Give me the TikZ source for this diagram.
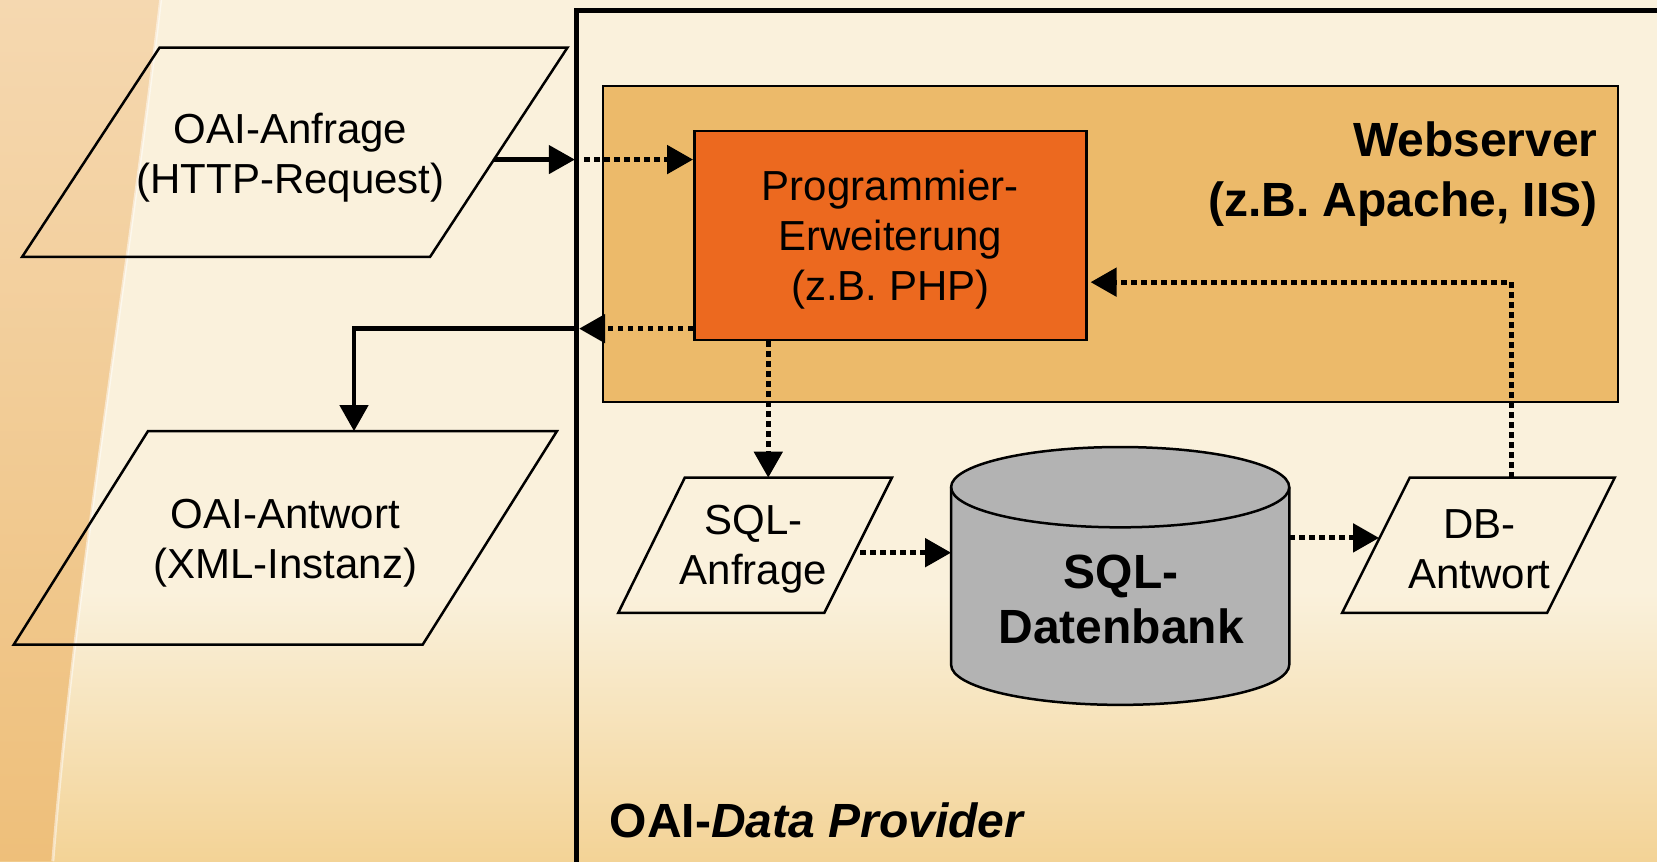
\documentclass[tikz,border=0pt]{standalone}
\usepackage{fontspec}
\setmainfont{Liberation Sans}
\usetikzlibrary{arrows.meta,calc}
\definecolor{bgcream}{HTML}{FAF1DC}
\definecolor{bgwarm}{HTML}{F3D396}
\definecolor{bandtop}{HTML}{F5D8B0}
\definecolor{bandbot}{HTML}{EEBF7A}
\definecolor{webfill}{HTML}{ECBA6A}
\definecolor{phpfill}{HTML}{EC691F}
\definecolor{dbfill}{HTML}{B3B3B3}
\tikzset{
  lbl/.style={font=\fontsize{42}{50}\selectfont, align=center, inner sep=0pt},
  blbl/.style={font=\fontsize{48}{60}\selectfont\bfseries, align=center, inner sep=0pt},
  paral/.style={draw=black, line width=2.5pt, line join=miter},
  solidarr/.style={line width=4.5pt, -{Triangle[length=26pt,width=28pt]}},
  dotarr/.style={line width=5pt, dash pattern=on 5.5pt off 4.5pt, -{Triangle[length=26pt,width=28pt]}},
  boxthin/.style={draw=black, line width=2pt},
}
\begin{document}
\begin{tikzpicture}[x=1.0568pt,y=-1.0568pt]
\useasboundingbox (0,0) rectangle (1568,815);
\clip (0,0) rectangle (1568,815);
% background
\fill[bgcream] (0,0) rectangle (1568,815);
\shade[top color=bgcream, bottom color=bgwarm] (0,560) rectangle (1568,815);
\shade[top color=bandtop, bottom color=bandbot] (0,0) -- (152,0) .. controls (120,270) and (70,560) .. (50,815) -- (0,815) -- cycle;
\draw[white, line width=3pt, opacity=0.5] (152,0) .. controls (120,270) and (70,560) .. (50,815);
% provider frame
\draw[line width=5pt] (546,830) -- (546,9.5) -- (1600,9.5);
% webserver box
\node[boxthin, fill=webfill, minimum width=1014.5pt, minimum height=316pt] (web) at (1051,230.5) {};
\node[blbl, align=right, anchor=east] (webtxt) at (1512,164.5) {Webserver\\(z.B. Apache, IIS)};
% php box
\node[draw=black, line width=2.5pt, fill=phpfill, minimum width=392pt, minimum height=209pt] (php) at (842.5,223) {};
\node[lbl] (phptxt) at (842.5,227) {Programmier-\\Erweiterung\\(z.B. PHP)};
% parallelograms
\draw[paral] (151,45) -- (537,45) -- (407,243) -- (21,243) -- cycle;
\node[lbl] (anf) at (275,149) {OAI-Anfrage\\(HTTP-Request)};
\draw[paral] (140,408) -- (527,408) -- (400,610) -- (13,610) -- cycle;
\node[lbl] (antw) at (270,514) {OAI-Antwort\\(XML-Instanz)};
\draw[paral] (648,452) -- (844,452) -- (780,580) -- (585,580) -- cycle;
\node[lbl] (sql) at (713,520) {SQL-\\Anfrage};
\draw[paral] (1334,452) -- (1528,452) -- (1464,580) -- (1270,580) -- cycle;
\node[lbl] (dba) at (1400,520) {DB-\\Antwort};
% cylinder
\filldraw[fill=dbfill, draw=black, line width=2.5pt] (900,461) -- (900,629) .. controls (900,650) and (971.6,667) .. (1060,667) .. controls (1148.4,667) and (1220,650) .. (1220,629) -- (1220,461) .. controls (1220,440) and (1148.4,423) .. (1060,423) .. controls (971.6,423) and (900,440) .. (900,461) -- cycle;
\draw[line width=2.5pt] (900,461) .. controls (900,482) and (971.6,499) .. (1060,499) .. controls (1148.4,499) and (1220,482) .. (1220,461);
\node[blbl, font=\fontsize{48}{55}\selectfont\bfseries] (db) at (1061,567) {SQL-\\Datenbank};
% provider label
\node[blbl, anchor=west] (prov) at (577,776) {OAI-\textit{Data Provider}};
% connection points
\coordinate (anfR) at (467,151);
\coordinate (frIn) at (544,151);
\coordinate (frOut) at (553,151);
\coordinate (frRet) at (548,311);
\coordinate (frL2) at (546,311);
\coordinate (antwTop) at (335,408);
\coordinate (sqlTop) at (727,452);
\coordinate (sqlR) at (814,523);
\coordinate (dbL) at (900,523);
\coordinate (dbR) at (1220,509);
\coordinate (dbaL) at (1305,509);
\coordinate (dbaTop) at (1430,452);
\coordinate (phpIn) at (1032,267);
% connectors
\draw[solidarr] (anfR) -- (frIn);
\draw[dotarr] (frOut) -- (php.west |- frOut);
\draw[dotarr] (php.west |- frRet) -- (frRet);
\draw[solidarr] (frL2) -| (antwTop);
\draw[dotarr] (php.south -| sqlTop) -- (sqlTop);
\draw[dotarr] (sqlR) -- (dbL);
\draw[dotarr] (dbR) -- (dbaL);
\draw[dotarr] (dbaTop) |- (phpIn);
\end{tikzpicture}
\end{document}
